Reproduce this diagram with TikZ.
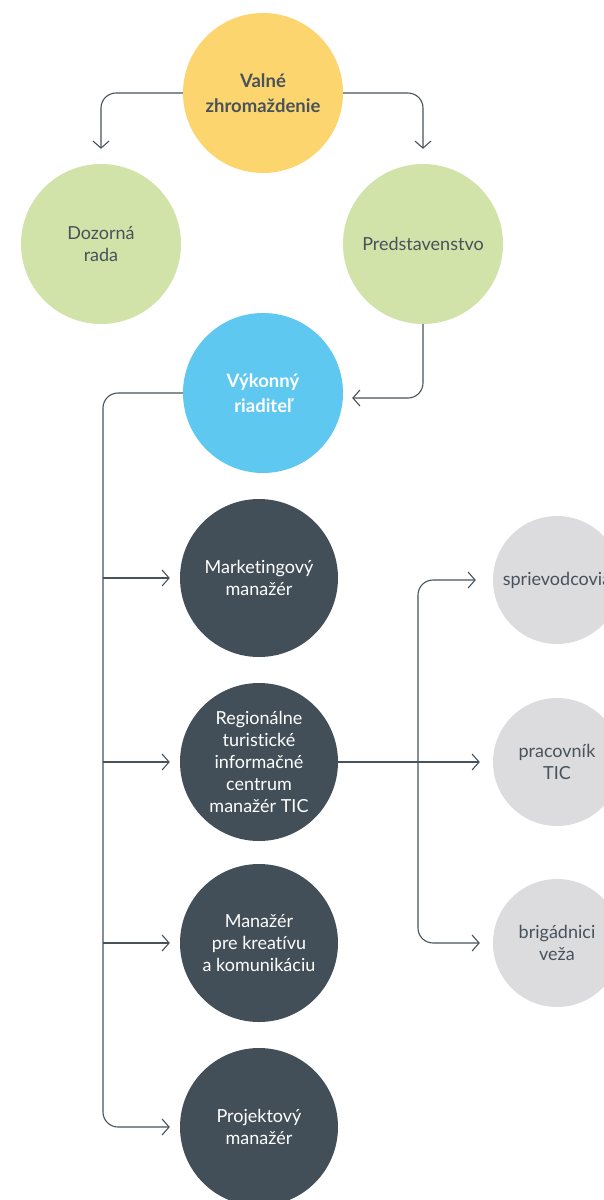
\documentclass[tikz,border=0pt]{standalone}
\usepackage{fontspec}
\setmainfont{Lato}[Ligatures=NoCommon]
\usepackage{xcolor}
\usetikzlibrary{arrows.meta, positioning}

\definecolor{ink}{HTML}{47525B}
\definecolor{gold}{HTML}{FDD56F}
\definecolor{sage}{HTML}{D1E3A8}
\definecolor{sky}{HTML}{5EC8F1}
\definecolor{slate}{HTML}{434F58}
\definecolor{mist}{HTML}{DCDCDE}

\begin{document}
\begin{tikzpicture}[x=1pt, y=-1pt,
    org/.style={circle, minimum size=160pt, inner sep=0pt, align=center,
        text=ink, font=\fontsize{18}{22.2}\selectfont},
    head/.style={org, font=\bfseries\fontsize{18.5}{25}\selectfont},
    mgr/.style={org, fill=slate, text=white, minimum size=158pt},
    staff/.style={org, fill=mist, minimum size=128pt},
    link/.style={draw=ink, line width=1.1pt, rounded corners=15pt,
        -{Straight Barb[length=7pt, width=16pt, line width=1.1pt]}}]
    \useasboundingbox (0,0) rectangle (604,1200);
    \clip (0,0) rectangle (604,1200);
    % top of the tree
    \node[head, fill=gold] (vz) at (263,93) {Valné\\zhromaždenie};
    \node[org, fill=sage] (dr) at (101,244) {Dozorná\\rada};
    \node[org, fill=sage] (pr) at (423,244) {Predstavenstvo};
    \node[head, fill=sky, text=white] (vr) at (263,393) {Výkonný\\riaditeľ};
    % managers
    \node[mgr] (mm) at (259,578) {Marketingový\\manažér};
    \node[mgr] (rt) at (259,762) {Regionálne\\turistické\\informačné\\centrum\\manažér TIC};
    \node[mgr] (mk) at (259,943) {Manažér\\pre kreatívu\\a komunikáciu};
    \node[mgr] (pm) at (259,1127) {Projektový\\manažér};
    % staff of the TIC
    \node[staff] (sp) at (557,580) {sprievodcovia};
    \node[staff] (tc) at (557,762) {pracovník\\TIC};
    \node[staff] (bv) at (557,943) {brigádnici\\veža};
    \coordinate (bus) at (103,760);
    \coordinate (tbus) at (418,762);
    \draw[link, shorten >=15pt] (vz.west) -| (dr.north);
    \draw[link, shorten >=15pt] (vz.east) -| (pr.north);
    \draw[link, shorten >=9pt] (pr.south) |- ([yshift=-5pt]vr.east);
    \draw[link, shorten >=10pt] (vr.west) -| (bus) |- (pm.west);
    \foreach \m in {mm, rt, mk}
        \draw[link, shorten >=10pt] (bus |- \m.west) -- (\m.west);
    \draw[link, shorten >=13pt] (rt.east) -- (tc.west);
    \draw[link, shorten >=17pt] (tbus) |- (sp.west);
    \draw[link, shorten >=13pt] (tbus) |- (bv.west);
\end{tikzpicture}
\end{document}
